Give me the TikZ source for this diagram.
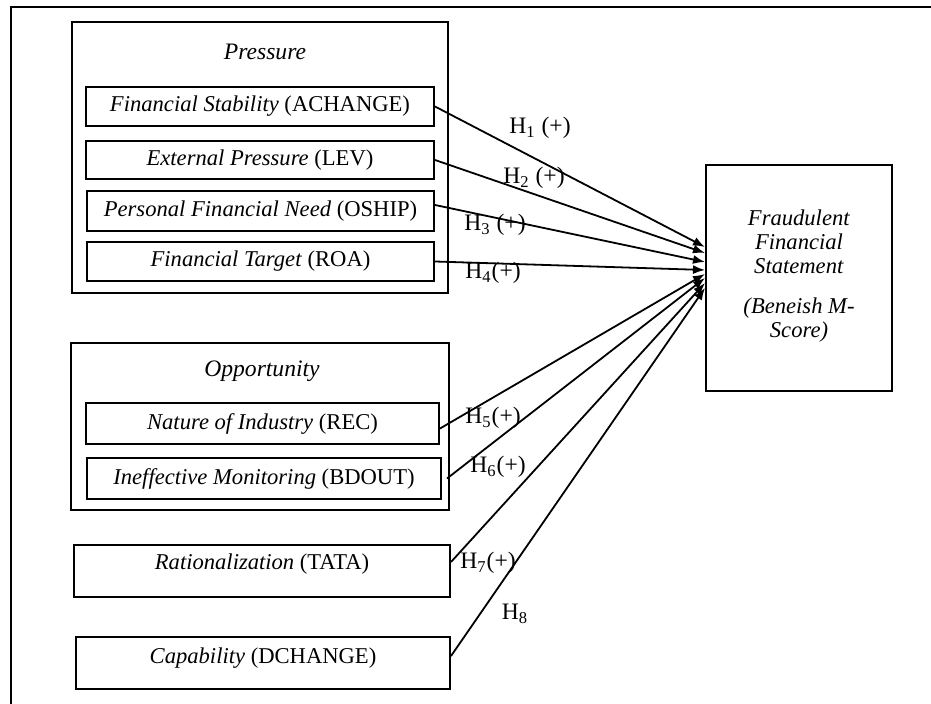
\documentclass[tikz,border=0pt]{standalone}
\usepackage{fontspec}
\setmainfont{Liberation Serif}
\usetikzlibrary{arrows.meta}

\begin{document}
\begin{tikzpicture}[x=0.5pt,y=-0.5pt,
    groupbox/.style={draw, line width=0.8pt, inner sep=0pt},
    varbox/.style={draw, line width=1pt, inner sep=0pt, font=\fontsize{11.3}{12}\selectfont},
    hyp/.style={font=\fontsize{11.8}{12}\selectfont, inner sep=1pt},
    hypline/.style={-{Latex[length=6pt,width=4.5pt]}, line width=0.9pt}]

    \useasboundingbox (0,0) rectangle (931,704);

    % Draw outer frame, top and left side only
    \draw[line width=1.1pt] (11,704) -- (11,7) -- (931,7);

    % Draw Pressure group with its four boxes
    \node[groupbox, minimum width=188pt, minimum height=135.5pt] (PG) at (260,157.5) {};
    \node[hyp] (PGlabel) at (265,52) {\textit{Pressure}};
    \node[varbox, minimum width=174pt, minimum height=19.5pt] (FS) at (260,106.5) {\textit{Financial Stability} (ACHANGE)};
    \node[varbox, minimum width=174pt, minimum height=19pt] (EP) at (260,160) {\textit{External Pressure} (LEV)};
    \node[varbox, minimum width=173.5pt, minimum height=20pt] (PFN) at (260.5,211) {\textit{Personal Financial Need} (OSHIP)};
    \node[varbox, minimum width=173.5pt, minimum height=19.5pt] (FT) at (260.5,261.5) {\textit{Financial Target} (ROA)};

    % Draw Opportunity group with its two boxes
    \node[groupbox, minimum width=189pt, minimum height=83.5pt] (OG) at (260,426.5) {};
    \node[hyp] (OGlabel) at (262,371) {\textit{Opportunity}};
    \node[varbox, minimum width=176.5pt, minimum height=20.5pt] (NOI) at (262.5,423.5) {\textit{Nature of Industry} (REC)};
    \node[varbox, minimum width=177pt, minimum height=20.5pt] (IM) at (264,478.5) {\textit{Ineffective Monitoring} (BDOUT)};

    % Draw Rationalization and Capability boxes
    \node[varbox, minimum width=188pt, minimum height=26pt, text depth=9pt] (RAT) at (262,571) {\textit{Rationalization} (TATA)};
    \node[varbox, minimum width=187pt, minimum height=26pt, text depth=7.5pt] (CAP) at (263,663) {\textit{Capability} (DCHANGE)};

    % Draw dependent variable box
    \node[varbox, minimum width=93pt, minimum height=113pt, align=center, text depth=4pt] (FFS) at (799,278)
        {\textit{Fraudulent}\\\textit{Financial}\\\textit{Statement}\\[8pt]\textit{(Beneish M-}\\\textit{Score)}};

    % Draw hypothesis arrows
    \draw[hypline] (FS.east) -- ([yshift=15.5pt]FFS.west);
    \draw[hypline] (EP.east) -- ([yshift=12.5pt]FFS.west);
    \draw[hypline] ([yshift=3pt]PFN.east) -- ([yshift=8pt]FFS.west);
    \draw[hypline] (FT.east) -- ([yshift=4pt]FFS.west);
    \draw[hypline] ([yshift=-2.5pt]NOI.east) -- ([yshift=2pt]FFS.west);
    \draw[hypline] ([xshift=2.5pt]IM.east) -- (FFS.west);
    \draw[hypline] ([yshift=4.5pt]RAT.east) -- ([yshift=-2.5pt]FFS.west);
    \draw[hypline] ([yshift=3.5pt]CAP.east) -- ([yshift=-5pt]FFS.west);

    % Hypothesis labels
    \node[hyp] (H1) at (540,128) {H\textsubscript{1} (+)};
    \node[hyp] (H2) at (534,178) {H\textsubscript{2} (+)};
    \node[hyp] (H3) at (495,225) {H\textsubscript{3} (+)};
    \node[hyp] (H4) at (493,273) {H\textsubscript{4}(+)};
    \node[hyp] (H5) at (493,418) {H\textsubscript{5}(+)};
    \node[hyp] (H6) at (498,467) {H\textsubscript{6}(+)};
    \node[hyp] (H7) at (488,563) {H\textsubscript{7}(+)};
    \node[hyp] (H8) at (515,614) {H\textsubscript{8}};
\end{tikzpicture}
\end{document}
